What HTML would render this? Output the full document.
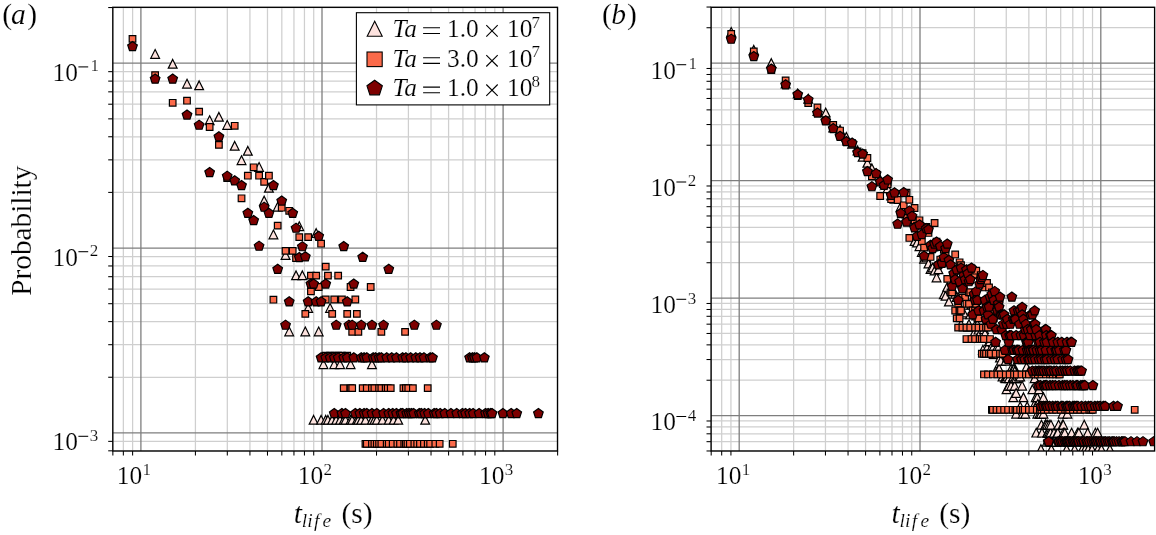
<!DOCTYPE html><html><head><meta charset="utf-8"><title>plot</title>
<style>html,body{margin:0;padding:0;background:#fff;width:1156px;height:535px;overflow:hidden}svg{display:block;will-change:transform}</style></head><body>
<svg width="1156" height="535" viewBox="0 0 1156 535">
<defs>
<path id="t" d="M0,-4.35L4.4,4.4L-4.4,4.4Z"/><path id="s" d="M-3.3,-3.3H3.3V3.3H-3.3Z"/><path id="p" d="M0.000,-4.568L4.803,-1.078L2.968,4.568L-2.968,4.568L-4.803,-1.078Z"/>
<clipPath id="ca"><rect x="112.8" y="7.3" width="444.70" height="443.70"/></clipPath>
<clipPath id="cb"><rect x="711.1" y="7.3" width="443.50" height="443.70"/></clipPath>
</defs>
<rect width="1156" height="535" fill="#fff"/>
<line x1="112.85" y1="7.3" x2="112.85" y2="451.0" stroke="#cfcfcf" stroke-width="1.25"/>
<line x1="123.35" y1="7.3" x2="123.35" y2="451.0" stroke="#cfcfcf" stroke-width="1.25"/>
<line x1="132.61" y1="7.3" x2="132.61" y2="451.0" stroke="#cfcfcf" stroke-width="1.25"/>
<line x1="195.42" y1="7.3" x2="195.42" y2="451.0" stroke="#cfcfcf" stroke-width="1.25"/>
<line x1="227.31" y1="7.3" x2="227.31" y2="451.0" stroke="#cfcfcf" stroke-width="1.25"/>
<line x1="249.93" y1="7.3" x2="249.93" y2="451.0" stroke="#cfcfcf" stroke-width="1.25"/>
<line x1="267.48" y1="7.3" x2="267.48" y2="451.0" stroke="#cfcfcf" stroke-width="1.25"/>
<line x1="281.82" y1="7.3" x2="281.82" y2="451.0" stroke="#cfcfcf" stroke-width="1.25"/>
<line x1="293.95" y1="7.3" x2="293.95" y2="451.0" stroke="#cfcfcf" stroke-width="1.25"/>
<line x1="304.45" y1="7.3" x2="304.45" y2="451.0" stroke="#cfcfcf" stroke-width="1.25"/>
<line x1="313.71" y1="7.3" x2="313.71" y2="451.0" stroke="#cfcfcf" stroke-width="1.25"/>
<line x1="376.52" y1="7.3" x2="376.52" y2="451.0" stroke="#cfcfcf" stroke-width="1.25"/>
<line x1="408.41" y1="7.3" x2="408.41" y2="451.0" stroke="#cfcfcf" stroke-width="1.25"/>
<line x1="431.03" y1="7.3" x2="431.03" y2="451.0" stroke="#cfcfcf" stroke-width="1.25"/>
<line x1="448.58" y1="7.3" x2="448.58" y2="451.0" stroke="#cfcfcf" stroke-width="1.25"/>
<line x1="462.92" y1="7.3" x2="462.92" y2="451.0" stroke="#cfcfcf" stroke-width="1.25"/>
<line x1="475.05" y1="7.3" x2="475.05" y2="451.0" stroke="#cfcfcf" stroke-width="1.25"/>
<line x1="485.55" y1="7.3" x2="485.55" y2="451.0" stroke="#cfcfcf" stroke-width="1.25"/>
<line x1="494.81" y1="7.3" x2="494.81" y2="451.0" stroke="#cfcfcf" stroke-width="1.25"/>
<line x1="557.62" y1="7.3" x2="557.62" y2="451.0" stroke="#cfcfcf" stroke-width="1.25"/>
<line x1="112.8" y1="450.81" x2="557.5" y2="450.81" stroke="#cfcfcf" stroke-width="1.25"/>
<line x1="112.8" y1="441.36" x2="557.5" y2="441.36" stroke="#cfcfcf" stroke-width="1.25"/>
<line x1="112.8" y1="377.25" x2="557.5" y2="377.25" stroke="#cfcfcf" stroke-width="1.25"/>
<line x1="112.8" y1="344.70" x2="557.5" y2="344.70" stroke="#cfcfcf" stroke-width="1.25"/>
<line x1="112.8" y1="321.61" x2="557.5" y2="321.61" stroke="#cfcfcf" stroke-width="1.25"/>
<line x1="112.8" y1="303.70" x2="557.5" y2="303.70" stroke="#cfcfcf" stroke-width="1.25"/>
<line x1="112.8" y1="289.06" x2="557.5" y2="289.06" stroke="#cfcfcf" stroke-width="1.25"/>
<line x1="112.8" y1="276.68" x2="557.5" y2="276.68" stroke="#cfcfcf" stroke-width="1.25"/>
<line x1="112.8" y1="265.96" x2="557.5" y2="265.96" stroke="#cfcfcf" stroke-width="1.25"/>
<line x1="112.8" y1="256.51" x2="557.5" y2="256.51" stroke="#cfcfcf" stroke-width="1.25"/>
<line x1="112.8" y1="192.40" x2="557.5" y2="192.40" stroke="#cfcfcf" stroke-width="1.25"/>
<line x1="112.8" y1="159.85" x2="557.5" y2="159.85" stroke="#cfcfcf" stroke-width="1.25"/>
<line x1="112.8" y1="136.76" x2="557.5" y2="136.76" stroke="#cfcfcf" stroke-width="1.25"/>
<line x1="112.8" y1="118.85" x2="557.5" y2="118.85" stroke="#cfcfcf" stroke-width="1.25"/>
<line x1="112.8" y1="104.21" x2="557.5" y2="104.21" stroke="#cfcfcf" stroke-width="1.25"/>
<line x1="112.8" y1="91.83" x2="557.5" y2="91.83" stroke="#cfcfcf" stroke-width="1.25"/>
<line x1="112.8" y1="81.11" x2="557.5" y2="81.11" stroke="#cfcfcf" stroke-width="1.25"/>
<line x1="112.8" y1="71.66" x2="557.5" y2="71.66" stroke="#cfcfcf" stroke-width="1.25"/>
<line x1="112.8" y1="7.55" x2="557.5" y2="7.55" stroke="#cfcfcf" stroke-width="1.25"/>
<line x1="140.90" y1="7.3" x2="140.90" y2="451.0" stroke="#7e7e7e" stroke-width="1.3"/>
<line x1="322.00" y1="7.3" x2="322.00" y2="451.0" stroke="#7e7e7e" stroke-width="1.3"/>
<line x1="503.10" y1="7.3" x2="503.10" y2="451.0" stroke="#7e7e7e" stroke-width="1.3"/>
<line x1="112.8" y1="432.90" x2="557.5" y2="432.90" stroke="#7e7e7e" stroke-width="1.3"/>
<line x1="112.8" y1="248.05" x2="557.5" y2="248.05" stroke="#7e7e7e" stroke-width="1.3"/>
<line x1="112.8" y1="63.20" x2="557.5" y2="63.20" stroke="#7e7e7e" stroke-width="1.3"/>
<g clip-path="url(#ca)" stroke="#000" stroke-width="1.2" stroke-linejoin="miter">
<g fill="#fde2de"><use href="#t" x="155.13" y="53.90"/><use href="#t" x="172.68" y="63.80"/><use href="#t" x="187.02" y="83.70"/><use href="#t" x="199.14" y="85.30"/><use href="#t" x="209.64" y="120.20"/><use href="#t" x="218.91" y="116.80"/><use href="#t" x="227.19" y="124.90"/><use href="#t" x="234.69" y="145.80"/><use href="#t" x="241.53" y="160.20"/><use href="#t" x="247.83" y="150.80"/><use href="#t" x="259.08" y="166.90"/><use href="#t" x="264.16" y="200.50"/><use href="#t" x="268.93" y="187.80"/><use href="#t" x="273.42" y="234.40"/><use href="#t" x="277.68" y="206.70"/><use href="#t" x="285.55" y="255.00"/><use href="#t" x="289.21" y="331.40"/><use href="#t" x="296.05" y="275.30"/><use href="#t" x="299.26" y="226.20"/><use href="#t" x="302.35" y="275.30"/><use href="#t" x="305.31" y="331.40"/><use href="#t" x="308.17" y="307.90"/><use href="#t" x="313.60" y="419.80"/><use href="#t" x="316.18" y="233.00"/><use href="#t" x="318.68" y="331.40"/><use href="#t" x="321.10" y="419.80"/><use href="#t" x="323.44" y="364.15"/><use href="#t" x="325.72" y="419.80"/><use href="#t" x="327.94" y="419.80"/><use href="#t" x="330.09" y="307.90"/><use href="#t" x="332.19" y="419.80"/><use href="#t" x="334.24" y="364.15"/><use href="#t" x="336.23" y="419.80"/><use href="#t" x="340.06" y="364.15"/><use href="#t" x="340.06" y="419.80"/><use href="#t" x="343.72" y="419.80"/><use href="#t" x="345.49" y="419.80"/><use href="#t" x="350.57" y="364.15"/><use href="#t" x="350.57" y="419.80"/><use href="#t" x="352.19" y="419.80"/><use href="#t" x="356.86" y="419.80"/><use href="#t" x="358.36" y="419.80"/><use href="#t" x="361.27" y="419.80"/><use href="#t" x="365.45" y="419.80"/><use href="#t" x="371.95" y="364.15"/><use href="#t" x="371.95" y="419.80"/><use href="#t" x="374.41" y="419.80"/><use href="#t" x="376.80" y="419.80"/><use href="#t" x="382.46" y="419.80"/><use href="#t" x="388.75" y="419.80"/><use href="#t" x="393.64" y="419.80"/><use href="#t" x="398.24" y="419.80"/><use href="#t" x="425.21" y="419.80"/></g>
<g fill="#fb6a4a"><use href="#s" x="132.50" y="38.90"/><use href="#s" x="155.13" y="75.10"/><use href="#s" x="172.68" y="102.80"/><use href="#s" x="187.02" y="100.70"/><use href="#s" x="199.14" y="111.60"/><use href="#s" x="209.64" y="127.00"/><use href="#s" x="218.91" y="144.90"/><use href="#s" x="227.19" y="178.00"/><use href="#s" x="234.69" y="125.80"/><use href="#s" x="241.53" y="198.30"/><use href="#s" x="247.83" y="175.70"/><use href="#s" x="253.66" y="167.30"/><use href="#s" x="259.08" y="175.70"/><use href="#s" x="264.16" y="181.90"/><use href="#s" x="268.93" y="175.70"/><use href="#s" x="273.42" y="299.70"/><use href="#s" x="277.68" y="225.60"/><use href="#s" x="281.71" y="207.70"/><use href="#s" x="285.55" y="250.90"/><use href="#s" x="289.21" y="210.80"/><use href="#s" x="292.70" y="250.90"/><use href="#s" x="296.05" y="258.00"/><use href="#s" x="299.26" y="237.10"/><use href="#s" x="305.31" y="313.90"/><use href="#s" x="308.17" y="237.10"/><use href="#s" x="310.93" y="291.40"/><use href="#s" x="310.93" y="275.60"/><use href="#s" x="316.18" y="275.60"/><use href="#s" x="318.68" y="287.00"/><use href="#s" x="321.10" y="243.70"/><use href="#s" x="325.72" y="299.50"/><use href="#s" x="325.72" y="266.60"/><use href="#s" x="325.72" y="355.60"/><use href="#s" x="327.94" y="275.60"/><use href="#s" x="330.09" y="355.60"/><use href="#s" x="332.19" y="313.90"/><use href="#s" x="334.24" y="299.50"/><use href="#s" x="334.24" y="355.60"/><use href="#s" x="338.17" y="275.60"/><use href="#s" x="338.17" y="355.60"/><use href="#s" x="341.91" y="299.50"/><use href="#s" x="341.91" y="355.60"/><use href="#s" x="343.72" y="388.15"/><use href="#s" x="347.22" y="313.90"/><use href="#s" x="347.22" y="355.60"/><use href="#s" x="350.57" y="287.00"/><use href="#s" x="350.57" y="388.15"/><use href="#s" x="352.19" y="331.90"/><use href="#s" x="352.19" y="388.15"/><use href="#s" x="355.33" y="299.50"/><use href="#s" x="356.86" y="313.90"/><use href="#s" x="358.36" y="331.90"/><use href="#s" x="362.69" y="388.15"/><use href="#s" x="365.45" y="443.80"/><use href="#s" x="366.79" y="388.15"/><use href="#s" x="366.79" y="443.80"/><use href="#s" x="370.70" y="287.00"/><use href="#s" x="371.95" y="388.15"/><use href="#s" x="371.95" y="443.80"/><use href="#s" x="374.41" y="388.15"/><use href="#s" x="374.41" y="443.80"/><use href="#s" x="376.80" y="443.80"/><use href="#s" x="379.11" y="388.15"/><use href="#s" x="379.11" y="443.80"/><use href="#s" x="381.36" y="331.90"/><use href="#s" x="381.36" y="388.15"/><use href="#s" x="381.36" y="443.80"/><use href="#s" x="385.67" y="388.15"/><use href="#s" x="386.71" y="443.80"/><use href="#s" x="387.74" y="388.15"/><use href="#s" x="388.75" y="443.80"/><use href="#s" x="390.74" y="388.15"/><use href="#s" x="392.69" y="443.80"/><use href="#s" x="397.34" y="443.80"/><use href="#s" x="400.01" y="443.80"/><use href="#s" x="403.43" y="388.15"/><use href="#s" x="404.26" y="443.80"/><use href="#s" x="405.08" y="331.90"/><use href="#s" x="405.90" y="388.15"/><use href="#s" x="405.90" y="443.80"/><use href="#s" x="407.50" y="443.80"/><use href="#s" x="408.29" y="388.15"/><use href="#s" x="409.85" y="443.80"/><use href="#s" x="412.88" y="388.15"/><use href="#s" x="414.35" y="443.80"/><use href="#s" x="417.21" y="443.80"/><use href="#s" x="419.97" y="443.80"/><use href="#s" x="423.93" y="443.80"/><use href="#s" x="427.71" y="388.15"/><use href="#s" x="427.71" y="443.80"/><use href="#s" x="430.13" y="443.80"/><use href="#s" x="435.32" y="443.80"/><use href="#s" x="439.66" y="443.80"/><use href="#s" x="452.76" y="443.80"/></g>
<g fill="#7d0000"><use href="#p" x="132.50" y="46.10"/><use href="#p" x="155.13" y="78.60"/><use href="#p" x="172.68" y="78.60"/><use href="#p" x="187.02" y="114.50"/><use href="#p" x="199.14" y="124.70"/><use href="#p" x="209.64" y="172.00"/><use href="#p" x="218.91" y="136.40"/><use href="#p" x="227.19" y="175.70"/><use href="#p" x="234.69" y="180.40"/><use href="#p" x="241.53" y="185.00"/><use href="#p" x="247.83" y="212.90"/><use href="#p" x="253.66" y="220.10"/><use href="#p" x="259.08" y="245.70"/><use href="#p" x="264.16" y="206.70"/><use href="#p" x="268.93" y="212.90"/><use href="#p" x="273.42" y="185.10"/><use href="#p" x="277.68" y="268.90"/><use href="#p" x="281.71" y="200.50"/><use href="#p" x="285.55" y="324.70"/><use href="#p" x="289.21" y="301.40"/><use href="#p" x="292.70" y="212.90"/><use href="#p" x="296.05" y="227.70"/><use href="#p" x="299.26" y="257.00"/><use href="#p" x="302.35" y="246.20"/><use href="#p" x="305.31" y="256.40"/><use href="#p" x="308.17" y="301.40"/><use href="#p" x="310.93" y="283.50"/><use href="#p" x="313.60" y="283.50"/><use href="#p" x="316.18" y="301.40"/><use href="#p" x="318.68" y="235.90"/><use href="#p" x="321.10" y="301.40"/><use href="#p" x="321.10" y="357.35"/><use href="#p" x="325.72" y="283.50"/><use href="#p" x="325.72" y="357.35"/><use href="#p" x="330.09" y="357.35"/><use href="#p" x="334.24" y="357.35"/><use href="#p" x="334.24" y="413.00"/><use href="#p" x="336.23" y="324.70"/><use href="#p" x="338.17" y="357.35"/><use href="#p" x="341.91" y="413.00"/><use href="#p" x="343.72" y="246.00"/><use href="#p" x="343.72" y="357.35"/><use href="#p" x="345.49" y="413.00"/><use href="#p" x="347.22" y="301.40"/><use href="#p" x="347.22" y="357.35"/><use href="#p" x="348.91" y="324.70"/><use href="#p" x="352.19" y="324.70"/><use href="#p" x="353.78" y="283.50"/><use href="#p" x="353.78" y="357.35"/><use href="#p" x="355.33" y="413.00"/><use href="#p" x="359.83" y="413.00"/><use href="#p" x="361.27" y="324.70"/><use href="#p" x="361.27" y="357.35"/><use href="#p" x="362.69" y="256.80"/><use href="#p" x="364.08" y="357.35"/><use href="#p" x="364.08" y="413.00"/><use href="#p" x="366.79" y="357.35"/><use href="#p" x="366.79" y="413.00"/><use href="#p" x="371.95" y="324.70"/><use href="#p" x="371.95" y="413.00"/><use href="#p" x="373.19" y="357.35"/><use href="#p" x="375.61" y="357.35"/><use href="#p" x="376.80" y="413.00"/><use href="#p" x="379.11" y="357.35"/><use href="#p" x="381.36" y="357.35"/><use href="#p" x="383.54" y="324.70"/><use href="#p" x="383.54" y="413.00"/><use href="#p" x="386.71" y="357.35"/><use href="#p" x="388.75" y="268.90"/><use href="#p" x="388.75" y="413.00"/><use href="#p" x="391.72" y="357.35"/><use href="#p" x="392.69" y="413.00"/><use href="#p" x="396.43" y="357.35"/><use href="#p" x="396.43" y="413.00"/><use href="#p" x="400.88" y="413.00"/><use href="#p" x="402.59" y="357.35"/><use href="#p" x="402.59" y="413.00"/><use href="#p" x="405.90" y="357.35"/><use href="#p" x="406.70" y="413.00"/><use href="#p" x="409.08" y="413.00"/><use href="#p" x="410.62" y="357.35"/><use href="#p" x="411.38" y="413.00"/><use href="#p" x="413.61" y="413.00"/><use href="#p" x="414.35" y="324.70"/><use href="#p" x="415.79" y="357.35"/><use href="#p" x="419.29" y="413.00"/><use href="#p" x="419.97" y="357.35"/><use href="#p" x="421.31" y="413.00"/><use href="#p" x="423.93" y="357.35"/><use href="#p" x="424.58" y="413.00"/><use href="#p" x="428.32" y="413.00"/><use href="#p" x="430.13" y="357.35"/><use href="#p" x="432.48" y="357.35"/><use href="#p" x="434.19" y="413.00"/><use href="#p" x="436.42" y="324.70"/><use href="#p" x="436.42" y="413.00"/><use href="#p" x="440.18" y="413.00"/><use href="#p" x="444.77" y="413.00"/><use href="#p" x="450.95" y="413.00"/><use href="#p" x="456.68" y="413.00"/><use href="#p" x="462.42" y="413.00"/><use href="#p" x="465.52" y="413.00"/><use href="#p" x="469.59" y="357.35"/><use href="#p" x="469.59" y="413.00"/><use href="#p" x="472.42" y="357.35"/><use href="#p" x="473.12" y="413.00"/><use href="#p" x="474.48" y="357.35"/><use href="#p" x="476.82" y="357.35"/><use href="#p" x="479.09" y="413.00"/><use href="#p" x="484.35" y="357.35"/><use href="#p" x="485.53" y="413.00"/><use href="#p" x="488.14" y="413.00"/><use href="#p" x="490.67" y="413.00"/><use href="#p" x="492.03" y="413.00"/><use href="#p" x="502.91" y="413.00"/><use href="#p" x="511.19" y="413.00"/><use href="#p" x="516.73" y="413.00"/><use href="#p" x="538.41" y="413.00"/></g>
</g>
<line x1="112.85" y1="451.0" x2="112.85" y2="455.6" stroke="#000" stroke-width="1.05"/>
<line x1="123.35" y1="451.0" x2="123.35" y2="455.6" stroke="#000" stroke-width="1.05"/>
<line x1="132.61" y1="451.0" x2="132.61" y2="455.6" stroke="#000" stroke-width="1.05"/>
<line x1="195.42" y1="451.0" x2="195.42" y2="455.6" stroke="#000" stroke-width="1.05"/>
<line x1="227.31" y1="451.0" x2="227.31" y2="455.6" stroke="#000" stroke-width="1.05"/>
<line x1="249.93" y1="451.0" x2="249.93" y2="455.6" stroke="#000" stroke-width="1.05"/>
<line x1="267.48" y1="451.0" x2="267.48" y2="455.6" stroke="#000" stroke-width="1.05"/>
<line x1="281.82" y1="451.0" x2="281.82" y2="455.6" stroke="#000" stroke-width="1.05"/>
<line x1="293.95" y1="451.0" x2="293.95" y2="455.6" stroke="#000" stroke-width="1.05"/>
<line x1="304.45" y1="451.0" x2="304.45" y2="455.6" stroke="#000" stroke-width="1.05"/>
<line x1="313.71" y1="451.0" x2="313.71" y2="455.6" stroke="#000" stroke-width="1.05"/>
<line x1="376.52" y1="451.0" x2="376.52" y2="455.6" stroke="#000" stroke-width="1.05"/>
<line x1="408.41" y1="451.0" x2="408.41" y2="455.6" stroke="#000" stroke-width="1.05"/>
<line x1="431.03" y1="451.0" x2="431.03" y2="455.6" stroke="#000" stroke-width="1.05"/>
<line x1="448.58" y1="451.0" x2="448.58" y2="455.6" stroke="#000" stroke-width="1.05"/>
<line x1="462.92" y1="451.0" x2="462.92" y2="455.6" stroke="#000" stroke-width="1.05"/>
<line x1="475.05" y1="451.0" x2="475.05" y2="455.6" stroke="#000" stroke-width="1.05"/>
<line x1="485.55" y1="451.0" x2="485.55" y2="455.6" stroke="#000" stroke-width="1.05"/>
<line x1="494.81" y1="451.0" x2="494.81" y2="455.6" stroke="#000" stroke-width="1.05"/>
<line x1="557.62" y1="451.0" x2="557.62" y2="455.6" stroke="#000" stroke-width="1.05"/>
<line x1="112.8" y1="450.81" x2="108.2" y2="450.81" stroke="#000" stroke-width="1.05"/>
<line x1="112.8" y1="441.36" x2="108.2" y2="441.36" stroke="#000" stroke-width="1.05"/>
<line x1="112.8" y1="377.25" x2="108.2" y2="377.25" stroke="#000" stroke-width="1.05"/>
<line x1="112.8" y1="344.70" x2="108.2" y2="344.70" stroke="#000" stroke-width="1.05"/>
<line x1="112.8" y1="321.61" x2="108.2" y2="321.61" stroke="#000" stroke-width="1.05"/>
<line x1="112.8" y1="303.70" x2="108.2" y2="303.70" stroke="#000" stroke-width="1.05"/>
<line x1="112.8" y1="289.06" x2="108.2" y2="289.06" stroke="#000" stroke-width="1.05"/>
<line x1="112.8" y1="276.68" x2="108.2" y2="276.68" stroke="#000" stroke-width="1.05"/>
<line x1="112.8" y1="265.96" x2="108.2" y2="265.96" stroke="#000" stroke-width="1.05"/>
<line x1="112.8" y1="256.51" x2="108.2" y2="256.51" stroke="#000" stroke-width="1.05"/>
<line x1="112.8" y1="192.40" x2="108.2" y2="192.40" stroke="#000" stroke-width="1.05"/>
<line x1="112.8" y1="159.85" x2="108.2" y2="159.85" stroke="#000" stroke-width="1.05"/>
<line x1="112.8" y1="136.76" x2="108.2" y2="136.76" stroke="#000" stroke-width="1.05"/>
<line x1="112.8" y1="118.85" x2="108.2" y2="118.85" stroke="#000" stroke-width="1.05"/>
<line x1="112.8" y1="104.21" x2="108.2" y2="104.21" stroke="#000" stroke-width="1.05"/>
<line x1="112.8" y1="91.83" x2="108.2" y2="91.83" stroke="#000" stroke-width="1.05"/>
<line x1="112.8" y1="81.11" x2="108.2" y2="81.11" stroke="#000" stroke-width="1.05"/>
<line x1="112.8" y1="71.66" x2="108.2" y2="71.66" stroke="#000" stroke-width="1.05"/>
<line x1="112.8" y1="7.55" x2="108.2" y2="7.55" stroke="#000" stroke-width="1.05"/>
<rect x="112.8" y="7.3" width="444.70" height="443.70" fill="none" stroke="#000" stroke-width="1.35"/>
<line x1="711.19" y1="7.3" x2="711.19" y2="451.0" stroke="#cfcfcf" stroke-width="1.25"/>
<line x1="721.68" y1="7.3" x2="721.68" y2="451.0" stroke="#cfcfcf" stroke-width="1.25"/>
<line x1="730.93" y1="7.3" x2="730.93" y2="451.0" stroke="#cfcfcf" stroke-width="1.25"/>
<line x1="793.63" y1="7.3" x2="793.63" y2="451.0" stroke="#cfcfcf" stroke-width="1.25"/>
<line x1="825.46" y1="7.3" x2="825.46" y2="451.0" stroke="#cfcfcf" stroke-width="1.25"/>
<line x1="848.05" y1="7.3" x2="848.05" y2="451.0" stroke="#cfcfcf" stroke-width="1.25"/>
<line x1="865.57" y1="7.3" x2="865.57" y2="451.0" stroke="#cfcfcf" stroke-width="1.25"/>
<line x1="879.89" y1="7.3" x2="879.89" y2="451.0" stroke="#cfcfcf" stroke-width="1.25"/>
<line x1="891.99" y1="7.3" x2="891.99" y2="451.0" stroke="#cfcfcf" stroke-width="1.25"/>
<line x1="902.48" y1="7.3" x2="902.48" y2="451.0" stroke="#cfcfcf" stroke-width="1.25"/>
<line x1="911.73" y1="7.3" x2="911.73" y2="451.0" stroke="#cfcfcf" stroke-width="1.25"/>
<line x1="974.43" y1="7.3" x2="974.43" y2="451.0" stroke="#cfcfcf" stroke-width="1.25"/>
<line x1="1006.26" y1="7.3" x2="1006.26" y2="451.0" stroke="#cfcfcf" stroke-width="1.25"/>
<line x1="1028.85" y1="7.3" x2="1028.85" y2="451.0" stroke="#cfcfcf" stroke-width="1.25"/>
<line x1="1046.37" y1="7.3" x2="1046.37" y2="451.0" stroke="#cfcfcf" stroke-width="1.25"/>
<line x1="1060.69" y1="7.3" x2="1060.69" y2="451.0" stroke="#cfcfcf" stroke-width="1.25"/>
<line x1="1072.79" y1="7.3" x2="1072.79" y2="451.0" stroke="#cfcfcf" stroke-width="1.25"/>
<line x1="1083.28" y1="7.3" x2="1083.28" y2="451.0" stroke="#cfcfcf" stroke-width="1.25"/>
<line x1="1092.53" y1="7.3" x2="1092.53" y2="451.0" stroke="#cfcfcf" stroke-width="1.25"/>
<line x1="711.1" y1="450.97" x2="1154.6" y2="450.97" stroke="#cfcfcf" stroke-width="1.25"/>
<line x1="711.1" y1="441.67" x2="1154.6" y2="441.67" stroke="#cfcfcf" stroke-width="1.25"/>
<line x1="711.1" y1="433.80" x2="1154.6" y2="433.80" stroke="#cfcfcf" stroke-width="1.25"/>
<line x1="711.1" y1="426.99" x2="1154.6" y2="426.99" stroke="#cfcfcf" stroke-width="1.25"/>
<line x1="711.1" y1="420.98" x2="1154.6" y2="420.98" stroke="#cfcfcf" stroke-width="1.25"/>
<line x1="711.1" y1="380.23" x2="1154.6" y2="380.23" stroke="#cfcfcf" stroke-width="1.25"/>
<line x1="711.1" y1="359.54" x2="1154.6" y2="359.54" stroke="#cfcfcf" stroke-width="1.25"/>
<line x1="711.1" y1="344.86" x2="1154.6" y2="344.86" stroke="#cfcfcf" stroke-width="1.25"/>
<line x1="711.1" y1="333.47" x2="1154.6" y2="333.47" stroke="#cfcfcf" stroke-width="1.25"/>
<line x1="711.1" y1="324.17" x2="1154.6" y2="324.17" stroke="#cfcfcf" stroke-width="1.25"/>
<line x1="711.1" y1="316.30" x2="1154.6" y2="316.30" stroke="#cfcfcf" stroke-width="1.25"/>
<line x1="711.1" y1="309.49" x2="1154.6" y2="309.49" stroke="#cfcfcf" stroke-width="1.25"/>
<line x1="711.1" y1="303.48" x2="1154.6" y2="303.48" stroke="#cfcfcf" stroke-width="1.25"/>
<line x1="711.1" y1="262.73" x2="1154.6" y2="262.73" stroke="#cfcfcf" stroke-width="1.25"/>
<line x1="711.1" y1="242.04" x2="1154.6" y2="242.04" stroke="#cfcfcf" stroke-width="1.25"/>
<line x1="711.1" y1="227.36" x2="1154.6" y2="227.36" stroke="#cfcfcf" stroke-width="1.25"/>
<line x1="711.1" y1="215.97" x2="1154.6" y2="215.97" stroke="#cfcfcf" stroke-width="1.25"/>
<line x1="711.1" y1="206.67" x2="1154.6" y2="206.67" stroke="#cfcfcf" stroke-width="1.25"/>
<line x1="711.1" y1="198.80" x2="1154.6" y2="198.80" stroke="#cfcfcf" stroke-width="1.25"/>
<line x1="711.1" y1="191.99" x2="1154.6" y2="191.99" stroke="#cfcfcf" stroke-width="1.25"/>
<line x1="711.1" y1="185.98" x2="1154.6" y2="185.98" stroke="#cfcfcf" stroke-width="1.25"/>
<line x1="711.1" y1="145.23" x2="1154.6" y2="145.23" stroke="#cfcfcf" stroke-width="1.25"/>
<line x1="711.1" y1="124.54" x2="1154.6" y2="124.54" stroke="#cfcfcf" stroke-width="1.25"/>
<line x1="711.1" y1="109.86" x2="1154.6" y2="109.86" stroke="#cfcfcf" stroke-width="1.25"/>
<line x1="711.1" y1="98.47" x2="1154.6" y2="98.47" stroke="#cfcfcf" stroke-width="1.25"/>
<line x1="711.1" y1="89.17" x2="1154.6" y2="89.17" stroke="#cfcfcf" stroke-width="1.25"/>
<line x1="711.1" y1="81.30" x2="1154.6" y2="81.30" stroke="#cfcfcf" stroke-width="1.25"/>
<line x1="711.1" y1="74.49" x2="1154.6" y2="74.49" stroke="#cfcfcf" stroke-width="1.25"/>
<line x1="711.1" y1="68.48" x2="1154.6" y2="68.48" stroke="#cfcfcf" stroke-width="1.25"/>
<line x1="711.1" y1="27.73" x2="1154.6" y2="27.73" stroke="#cfcfcf" stroke-width="1.25"/>
<line x1="711.1" y1="7.04" x2="1154.6" y2="7.04" stroke="#cfcfcf" stroke-width="1.25"/>
<line x1="739.20" y1="7.3" x2="739.20" y2="451.0" stroke="#7e7e7e" stroke-width="1.3"/>
<line x1="920.00" y1="7.3" x2="920.00" y2="451.0" stroke="#7e7e7e" stroke-width="1.3"/>
<line x1="1100.80" y1="7.3" x2="1100.80" y2="451.0" stroke="#7e7e7e" stroke-width="1.3"/>
<line x1="711.1" y1="415.60" x2="1154.6" y2="415.60" stroke="#7e7e7e" stroke-width="1.3"/>
<line x1="711.1" y1="298.10" x2="1154.6" y2="298.10" stroke="#7e7e7e" stroke-width="1.3"/>
<line x1="711.1" y1="180.60" x2="1154.6" y2="180.60" stroke="#7e7e7e" stroke-width="1.3"/>
<line x1="711.1" y1="63.10" x2="1154.6" y2="63.10" stroke="#7e7e7e" stroke-width="1.3"/>
<g clip-path="url(#cb)" stroke="#000" stroke-width="1.2" stroke-linejoin="miter">
<g fill="#fde2de"><use href="#t" x="731.20" y="31.90"/><use href="#t" x="753.79" y="49.80"/><use href="#t" x="771.31" y="63.00"/><use href="#t" x="785.63" y="83.50"/><use href="#t" x="797.73" y="93.50"/><use href="#t" x="808.22" y="98.70"/><use href="#t" x="817.46" y="111.00"/><use href="#t" x="825.74" y="112.50"/><use href="#t" x="833.22" y="127.50"/><use href="#t" x="840.05" y="129.66"/><use href="#t" x="846.34" y="136.82"/><use href="#t" x="852.16" y="143.70"/><use href="#t" x="857.57" y="150.47"/><use href="#t" x="862.64" y="156.80"/><use href="#t" x="867.40" y="162.75"/><use href="#t" x="871.89" y="168.27"/><use href="#t" x="876.14" y="173.36"/><use href="#t" x="880.16" y="179.71"/><use href="#t" x="883.99" y="183.04"/><use href="#t" x="887.65" y="188.30"/><use href="#t" x="891.14" y="195.39"/><use href="#t" x="894.48" y="198.83"/><use href="#t" x="900.76" y="206.39"/><use href="#t" x="903.73" y="210.07"/><use href="#t" x="906.58" y="213.49"/><use href="#t" x="909.34" y="219.58"/><use href="#t" x="914.57" y="241.06"/><use href="#t" x="917.07" y="242.48"/><use href="#t" x="919.48" y="246.20"/><use href="#t" x="921.83" y="251.92"/><use href="#t" x="924.10" y="258.83"/><use href="#t" x="926.32" y="257.44"/><use href="#t" x="928.47" y="263.53"/><use href="#t" x="930.56" y="269.05"/><use href="#t" x="932.60" y="267.57"/><use href="#t" x="934.59" y="270.57"/><use href="#t" x="936.53" y="277.44"/><use href="#t" x="938.42" y="269.27"/><use href="#t" x="943.84" y="294.21"/><use href="#t" x="945.56" y="295.74"/><use href="#t" x="947.25" y="286.83"/><use href="#t" x="948.90" y="301.51"/><use href="#t" x="952.11" y="291.12"/><use href="#t" x="955.19" y="293.64"/><use href="#t" x="956.69" y="297.12"/><use href="#t" x="958.15" y="297.12"/><use href="#t" x="961.01" y="324.20"/><use href="#t" x="962.40" y="314.33"/><use href="#t" x="963.76" y="312.51"/><use href="#t" x="966.43" y="304.64"/><use href="#t" x="967.72" y="326.64"/><use href="#t" x="969.00" y="324.20"/><use href="#t" x="970.26" y="314.33"/><use href="#t" x="971.49" y="304.42"/><use href="#t" x="972.71" y="298.75"/><use href="#t" x="973.91" y="333.30"/><use href="#t" x="975.09" y="325.33"/><use href="#t" x="976.25" y="315.42"/><use href="#t" x="977.40" y="324.20"/><use href="#t" x="978.53" y="329.58"/><use href="#t" x="979.64" y="337.64"/><use href="#t" x="980.74" y="331.50"/><use href="#t" x="981.83" y="335.59"/><use href="#t" x="982.89" y="349.70"/><use href="#t" x="983.95" y="329.11"/><use href="#t" x="984.99" y="333.30"/><use href="#t" x="987.03" y="347.88"/><use href="#t" x="988.03" y="318.11"/><use href="#t" x="989.02" y="341.17"/><use href="#t" x="989.99" y="341.17"/><use href="#t" x="990.95" y="347.88"/><use href="#t" x="991.91" y="350.27"/><use href="#t" x="992.85" y="347.88"/><use href="#t" x="993.78" y="353.89"/><use href="#t" x="994.69" y="353.89"/><use href="#t" x="995.60" y="370.96"/><use href="#t" x="996.50" y="347.88"/><use href="#t" x="997.39" y="370.96"/><use href="#t" x="998.26" y="347.88"/><use href="#t" x="999.13" y="368.57"/><use href="#t" x="999.99" y="357.57"/><use href="#t" x="1000.84" y="360.70"/><use href="#t" x="1002.51" y="376.54"/><use href="#t" x="1004.95" y="377.87"/><use href="#t" x="1005.75" y="360.70"/><use href="#t" x="1005.75" y="378.26"/><use href="#t" x="1006.54" y="389.26"/><use href="#t" x="1007.32" y="357.57"/><use href="#t" x="1007.32" y="376.54"/><use href="#t" x="1008.86" y="378.26"/><use href="#t" x="1008.86" y="385.64"/><use href="#t" x="1008.86" y="385.64"/><use href="#t" x="1011.11" y="368.57"/><use href="#t" x="1011.11" y="385.64"/><use href="#t" x="1013.30" y="376.54"/><use href="#t" x="1013.30" y="397.23"/><use href="#t" x="1014.02" y="366.87"/><use href="#t" x="1014.02" y="368.57"/><use href="#t" x="1014.73" y="370.96"/><use href="#t" x="1014.73" y="378.26"/><use href="#t" x="1014.73" y="385.64"/><use href="#t" x="1016.13" y="378.26"/><use href="#t" x="1016.13" y="392.94"/><use href="#t" x="1016.13" y="413.63"/><use href="#t" x="1018.86" y="376.54"/><use href="#t" x="1020.20" y="376.54"/><use href="#t" x="1020.20" y="406.33"/><use href="#t" x="1022.15" y="385.64"/><use href="#t" x="1022.79" y="413.63"/><use href="#t" x="1023.43" y="397.23"/><use href="#t" x="1025.30" y="413.63"/><use href="#t" x="1026.53" y="366.87"/><use href="#t" x="1027.14" y="406.33"/><use href="#t" x="1028.93" y="370.96"/><use href="#t" x="1032.39" y="389.26"/><use href="#t" x="1034.62" y="378.26"/><use href="#t" x="1034.62" y="403.94"/><use href="#t" x="1035.71" y="397.23"/><use href="#t" x="1035.71" y="406.33"/><use href="#t" x="1036.25" y="432.60"/><use href="#t" x="1037.32" y="397.23"/><use href="#t" x="1037.32" y="413.63"/><use href="#t" x="1037.85" y="403.94"/><use href="#t" x="1038.90" y="389.26"/><use href="#t" x="1038.90" y="406.33"/><use href="#t" x="1039.41" y="413.63"/><use href="#t" x="1040.95" y="406.33"/><use href="#t" x="1040.95" y="413.63"/><use href="#t" x="1040.95" y="413.63"/><use href="#t" x="1040.95" y="449.00"/><use href="#t" x="1041.45" y="424.63"/><use href="#t" x="1041.96" y="432.60"/><use href="#t" x="1043.44" y="397.23"/><use href="#t" x="1043.44" y="413.63"/><use href="#t" x="1045.38" y="424.63"/><use href="#t" x="1045.38" y="424.63"/><use href="#t" x="1045.86" y="424.63"/><use href="#t" x="1046.80" y="441.70"/><use href="#t" x="1047.27" y="424.63"/><use href="#t" x="1047.27" y="432.60"/><use href="#t" x="1047.74" y="432.60"/><use href="#t" x="1047.74" y="432.60"/><use href="#t" x="1049.12" y="424.63"/><use href="#t" x="1049.12" y="432.60"/><use href="#t" x="1050.48" y="432.60"/><use href="#t" x="1050.93" y="424.63"/><use href="#t" x="1051.37" y="441.70"/><use href="#t" x="1051.37" y="449.00"/><use href="#t" x="1051.81" y="441.70"/><use href="#t" x="1053.12" y="441.70"/><use href="#t" x="1053.99" y="432.60"/><use href="#t" x="1055.69" y="441.70"/><use href="#t" x="1056.10" y="441.70"/><use href="#t" x="1057.35" y="432.60"/><use href="#t" x="1057.76" y="432.60"/><use href="#t" x="1058.57" y="424.63"/><use href="#t" x="1062.52" y="413.63"/><use href="#t" x="1062.52" y="424.63"/><use href="#t" x="1063.28" y="424.63"/><use href="#t" x="1063.28" y="432.60"/><use href="#t" x="1064.79" y="432.60"/><use href="#t" x="1065.17" y="441.70"/><use href="#t" x="1066.64" y="449.00"/><use href="#t" x="1067.37" y="413.63"/><use href="#t" x="1068.80" y="441.70"/><use href="#t" x="1071.59" y="432.60"/><use href="#t" x="1074.62" y="449.00"/><use href="#t" x="1077.54" y="432.60"/><use href="#t" x="1077.85" y="441.70"/><use href="#t" x="1078.80" y="432.60"/><use href="#t" x="1082.17" y="449.00"/><use href="#t" x="1084.24" y="424.63"/><use href="#t" x="1084.53" y="441.70"/><use href="#t" x="1085.11" y="449.00"/><use href="#t" x="1087.66" y="432.60"/><use href="#t" x="1088.22" y="449.00"/><use href="#t" x="1092.01" y="449.00"/><use href="#t" x="1095.37" y="432.60"/><use href="#t" x="1097.62" y="432.60"/><use href="#t" x="1097.87" y="449.00"/><use href="#t" x="1101.46" y="449.00"/><use href="#t" x="1109.90" y="449.00"/></g>
<g fill="#fb6a4a"><use href="#s" x="731.20" y="34.00"/><use href="#s" x="753.79" y="51.50"/><use href="#s" x="771.31" y="70.00"/><use href="#s" x="785.63" y="80.40"/><use href="#s" x="797.73" y="96.00"/><use href="#s" x="808.22" y="103.00"/><use href="#s" x="817.46" y="107.40"/><use href="#s" x="825.74" y="121.00"/><use href="#s" x="833.22" y="124.90"/><use href="#s" x="840.05" y="130.55"/><use href="#s" x="846.34" y="141.78"/><use href="#s" x="852.16" y="143.13"/><use href="#s" x="857.57" y="151.46"/><use href="#s" x="862.64" y="153.10"/><use href="#s" x="867.40" y="158.00"/><use href="#s" x="871.89" y="176.35"/><use href="#s" x="876.14" y="173.79"/><use href="#s" x="880.16" y="196.00"/><use href="#s" x="883.99" y="185.55"/><use href="#s" x="887.65" y="182.30"/><use href="#s" x="887.65" y="184.31"/><use href="#s" x="891.14" y="199.19"/><use href="#s" x="894.48" y="193.74"/><use href="#s" x="897.68" y="200.02"/><use href="#s" x="900.76" y="214.43"/><use href="#s" x="903.73" y="205.31"/><use href="#s" x="906.58" y="192.60"/><use href="#s" x="906.58" y="217.87"/><use href="#s" x="909.34" y="199.80"/><use href="#s" x="909.34" y="237.97"/><use href="#s" x="912.00" y="220.30"/><use href="#s" x="914.57" y="208.00"/><use href="#s" x="914.57" y="220.30"/><use href="#s" x="917.07" y="225.54"/><use href="#s" x="919.48" y="220.30"/><use href="#s" x="921.83" y="241.61"/><use href="#s" x="924.10" y="247.63"/><use href="#s" x="926.32" y="226.93"/><use href="#s" x="928.47" y="232.94"/><use href="#s" x="930.56" y="256.93"/><use href="#s" x="932.60" y="247.63"/><use href="#s" x="934.59" y="223.00"/><use href="#s" x="934.59" y="247.63"/><use href="#s" x="936.53" y="241.61"/><use href="#s" x="938.42" y="265.22"/><use href="#s" x="940.27" y="259.55"/><use href="#s" x="942.07" y="262.31"/><use href="#s" x="943.84" y="249.80"/><use href="#s" x="945.56" y="254.44"/><use href="#s" x="947.25" y="278.91"/><use href="#s" x="948.90" y="262.31"/><use href="#s" x="950.52" y="292.30"/><use href="#s" x="952.11" y="292.30"/><use href="#s" x="953.67" y="275.13"/><use href="#s" x="955.19" y="254.44"/><use href="#s" x="955.19" y="310.50"/><use href="#s" x="956.69" y="283.00"/><use href="#s" x="956.69" y="318.37"/><use href="#s" x="958.15" y="303.69"/><use href="#s" x="958.15" y="327.67"/><use href="#s" x="959.59" y="262.31"/><use href="#s" x="959.59" y="310.50"/><use href="#s" x="959.59" y="310.60"/><use href="#s" x="959.59" y="318.37"/><use href="#s" x="961.01" y="265.22"/><use href="#s" x="961.01" y="310.50"/><use href="#s" x="962.40" y="297.68"/><use href="#s" x="962.40" y="327.67"/><use href="#s" x="963.76" y="287.44"/><use href="#s" x="965.11" y="297.68"/><use href="#s" x="966.43" y="303.69"/><use href="#s" x="966.43" y="327.67"/><use href="#s" x="966.43" y="339.06"/><use href="#s" x="967.72" y="271.61"/><use href="#s" x="969.00" y="292.30"/><use href="#s" x="969.00" y="303.90"/><use href="#s" x="970.26" y="292.30"/><use href="#s" x="970.26" y="327.67"/><use href="#s" x="971.49" y="268.32"/><use href="#s" x="971.49" y="339.06"/><use href="#s" x="972.71" y="310.50"/><use href="#s" x="973.91" y="275.13"/><use href="#s" x="975.09" y="310.50"/><use href="#s" x="975.09" y="327.67"/><use href="#s" x="975.09" y="339.06"/><use href="#s" x="976.25" y="270.70"/><use href="#s" x="976.25" y="303.69"/><use href="#s" x="977.40" y="318.37"/><use href="#s" x="978.53" y="318.37"/><use href="#s" x="978.53" y="327.67"/><use href="#s" x="979.64" y="339.06"/><use href="#s" x="980.74" y="275.13"/><use href="#s" x="981.83" y="339.06"/><use href="#s" x="981.83" y="339.06"/><use href="#s" x="981.83" y="353.74"/><use href="#s" x="982.89" y="310.50"/><use href="#s" x="982.89" y="327.67"/><use href="#s" x="983.95" y="310.50"/><use href="#s" x="983.95" y="339.06"/><use href="#s" x="983.95" y="353.74"/><use href="#s" x="983.95" y="374.43"/><use href="#s" x="984.99" y="287.44"/><use href="#s" x="986.01" y="303.69"/><use href="#s" x="986.01" y="327.67"/><use href="#s" x="986.01" y="353.74"/><use href="#s" x="987.03" y="283.00"/><use href="#s" x="988.03" y="327.67"/><use href="#s" x="988.03" y="374.43"/><use href="#s" x="989.02" y="287.44"/><use href="#s" x="989.02" y="353.74"/><use href="#s" x="989.99" y="339.06"/><use href="#s" x="990.95" y="318.37"/><use href="#s" x="990.95" y="353.74"/><use href="#s" x="991.91" y="292.30"/><use href="#s" x="991.91" y="409.80"/><use href="#s" x="992.85" y="310.50"/><use href="#s" x="992.85" y="374.43"/><use href="#s" x="992.85" y="409.80"/><use href="#s" x="993.78" y="318.37"/><use href="#s" x="994.69" y="292.30"/><use href="#s" x="995.60" y="353.74"/><use href="#s" x="996.50" y="409.80"/><use href="#s" x="997.39" y="374.43"/><use href="#s" x="999.99" y="353.74"/><use href="#s" x="999.99" y="409.80"/><use href="#s" x="1000.84" y="374.43"/><use href="#s" x="1002.51" y="353.74"/><use href="#s" x="1004.14" y="409.80"/><use href="#s" x="1005.75" y="374.43"/><use href="#s" x="1008.09" y="409.80"/><use href="#s" x="1009.62" y="374.43"/><use href="#s" x="1012.58" y="409.80"/><use href="#s" x="1014.02" y="374.43"/><use href="#s" x="1015.44" y="409.80"/><use href="#s" x="1016.82" y="374.43"/><use href="#s" x="1016.82" y="409.80"/><use href="#s" x="1020.20" y="409.80"/><use href="#s" x="1021.50" y="374.43"/><use href="#s" x="1022.79" y="409.80"/><use href="#s" x="1024.68" y="409.80"/><use href="#s" x="1025.92" y="374.43"/><use href="#s" x="1028.93" y="374.43"/><use href="#s" x="1028.93" y="409.80"/><use href="#s" x="1032.39" y="409.80"/><use href="#s" x="1033.52" y="374.43"/><use href="#s" x="1035.17" y="374.43"/><use href="#s" x="1036.79" y="409.80"/><use href="#s" x="1037.85" y="374.43"/><use href="#s" x="1039.93" y="409.80"/><use href="#s" x="1041.45" y="374.43"/><use href="#s" x="1041.45" y="409.80"/><use href="#s" x="1043.93" y="409.80"/><use href="#s" x="1045.86" y="374.43"/><use href="#s" x="1047.74" y="409.80"/><use href="#s" x="1050.03" y="374.43"/><use href="#s" x="1052.25" y="409.80"/><use href="#s" x="1052.69" y="374.43"/><use href="#s" x="1056.10" y="374.43"/><use href="#s" x="1056.10" y="409.80"/><use href="#s" x="1058.97" y="374.43"/><use href="#s" x="1059.78" y="374.43"/><use href="#s" x="1060.57" y="409.80"/><use href="#s" x="1065.17" y="409.80"/><use href="#s" x="1067.37" y="409.80"/><use href="#s" x="1069.16" y="409.80"/><use href="#s" x="1072.95" y="409.80"/><use href="#s" x="1076.90" y="409.80"/><use href="#s" x="1080.35" y="409.80"/><use href="#s" x="1084.53" y="409.80"/><use href="#s" x="1089.32" y="409.80"/><use href="#s" x="1091.21" y="409.80"/><use href="#s" x="1092.80" y="409.80"/><use href="#s" x="1134.70" y="409.80"/></g>
<g fill="#7d0000"><use href="#p" x="731.20" y="38.70"/><use href="#p" x="753.79" y="56.00"/><use href="#p" x="771.31" y="68.60"/><use href="#p" x="785.63" y="84.30"/><use href="#p" x="797.73" y="94.00"/><use href="#p" x="808.22" y="99.20"/><use href="#p" x="817.46" y="112.50"/><use href="#p" x="825.74" y="120.30"/><use href="#p" x="833.22" y="128.00"/><use href="#p" x="840.05" y="135.84"/><use href="#p" x="846.34" y="140.98"/><use href="#p" x="852.16" y="142.56"/><use href="#p" x="857.57" y="152.04"/><use href="#p" x="862.64" y="153.48"/><use href="#p" x="867.40" y="171.08"/><use href="#p" x="871.89" y="186.19"/><use href="#p" x="876.14" y="173.18"/><use href="#p" x="880.16" y="181.27"/><use href="#p" x="883.99" y="184.83"/><use href="#p" x="887.65" y="179.42"/><use href="#p" x="891.14" y="194.81"/><use href="#p" x="894.48" y="192.42"/><use href="#p" x="897.68" y="223.68"/><use href="#p" x="900.76" y="212.72"/><use href="#p" x="903.73" y="192.03"/><use href="#p" x="906.58" y="221.57"/><use href="#p" x="909.34" y="210.45"/><use href="#p" x="912.00" y="215.71"/><use href="#p" x="914.57" y="227.40"/><use href="#p" x="917.07" y="235.79"/><use href="#p" x="919.48" y="224.40"/><use href="#p" x="921.83" y="234.00"/><use href="#p" x="924.10" y="255.58"/><use href="#p" x="926.32" y="228.18"/><use href="#p" x="928.47" y="228.97"/><use href="#p" x="930.56" y="244.73"/><use href="#p" x="932.60" y="248.09"/><use href="#p" x="934.59" y="243.65"/><use href="#p" x="936.53" y="241.57"/><use href="#p" x="938.42" y="264.34"/><use href="#p" x="940.27" y="245.83"/><use href="#p" x="942.07" y="262.77"/><use href="#p" x="943.84" y="256.94"/><use href="#p" x="945.56" y="248.09"/><use href="#p" x="947.25" y="243.65"/><use href="#p" x="948.90" y="259.77"/><use href="#p" x="950.52" y="264.34"/><use href="#p" x="952.11" y="285.84"/><use href="#p" x="953.67" y="273.01"/><use href="#p" x="955.19" y="279.03"/><use href="#p" x="956.69" y="269.37"/><use href="#p" x="958.15" y="299.72"/><use href="#p" x="959.59" y="281.20"/><use href="#p" x="961.01" y="267.64"/><use href="#p" x="962.40" y="288.33"/><use href="#p" x="963.76" y="274.94"/><use href="#p" x="965.11" y="279.03"/><use href="#p" x="966.43" y="269.37"/><use href="#p" x="967.72" y="273.01"/><use href="#p" x="969.00" y="281.20"/><use href="#p" x="970.26" y="279.03"/><use href="#p" x="971.49" y="267.64"/><use href="#p" x="972.71" y="314.40"/><use href="#p" x="973.91" y="293.71"/><use href="#p" x="975.09" y="299.72"/><use href="#p" x="976.25" y="290.95"/><use href="#p" x="977.40" y="299.72"/><use href="#p" x="978.53" y="310.31"/><use href="#p" x="979.64" y="283.47"/><use href="#p" x="980.74" y="279.03"/><use href="#p" x="981.83" y="276.94"/><use href="#p" x="982.89" y="274.94"/><use href="#p" x="983.95" y="310.31"/><use href="#p" x="984.99" y="299.72"/><use href="#p" x="986.01" y="318.84"/><use href="#p" x="987.03" y="306.53"/><use href="#p" x="988.03" y="314.40"/><use href="#p" x="989.02" y="306.53"/><use href="#p" x="989.99" y="296.62"/><use href="#p" x="990.95" y="323.70"/><use href="#p" x="991.91" y="293.71"/><use href="#p" x="992.85" y="318.84"/><use href="#p" x="993.78" y="299.72"/><use href="#p" x="994.69" y="290.95"/><use href="#p" x="995.60" y="341.90"/><use href="#p" x="996.50" y="329.08"/><use href="#p" x="997.39" y="310.31"/><use href="#p" x="998.26" y="303.01"/><use href="#p" x="999.13" y="306.53"/><use href="#p" x="999.99" y="296.62"/><use href="#p" x="1000.84" y="314.40"/><use href="#p" x="1001.68" y="329.08"/><use href="#p" x="1002.51" y="314.40"/><use href="#p" x="1003.33" y="323.70"/><use href="#p" x="1004.14" y="314.40"/><use href="#p" x="1004.95" y="349.77"/><use href="#p" x="1005.75" y="335.09"/><use href="#p" x="1006.54" y="323.70"/><use href="#p" x="1007.32" y="318.84"/><use href="#p" x="1008.09" y="359.07"/><use href="#p" x="1008.86" y="341.90"/><use href="#p" x="1009.62" y="335.09"/><use href="#p" x="1010.37" y="323.70"/><use href="#p" x="1011.11" y="335.09"/><use href="#p" x="1011.85" y="296.62"/><use href="#p" x="1012.58" y="349.77"/><use href="#p" x="1013.30" y="318.84"/><use href="#p" x="1014.02" y="310.31"/><use href="#p" x="1014.02" y="349.77"/><use href="#p" x="1014.73" y="318.84"/><use href="#p" x="1015.44" y="318.84"/><use href="#p" x="1016.13" y="335.09"/><use href="#p" x="1016.82" y="349.77"/><use href="#p" x="1017.51" y="349.77"/><use href="#p" x="1017.51" y="359.07"/><use href="#p" x="1018.19" y="310.31"/><use href="#p" x="1018.86" y="349.77"/><use href="#p" x="1019.53" y="323.70"/><use href="#p" x="1020.20" y="310.31"/><use href="#p" x="1020.85" y="335.09"/><use href="#p" x="1021.50" y="359.07"/><use href="#p" x="1022.15" y="306.90"/><use href="#p" x="1022.15" y="314.40"/><use href="#p" x="1022.79" y="349.77"/><use href="#p" x="1023.43" y="318.84"/><use href="#p" x="1024.06" y="335.09"/><use href="#p" x="1024.68" y="359.07"/><use href="#p" x="1025.30" y="329.08"/><use href="#p" x="1025.92" y="323.70"/><use href="#p" x="1026.53" y="341.90"/><use href="#p" x="1027.14" y="341.90"/><use href="#p" x="1027.14" y="349.77"/><use href="#p" x="1027.74" y="329.08"/><use href="#p" x="1028.34" y="341.90"/><use href="#p" x="1028.34" y="359.07"/><use href="#p" x="1028.93" y="349.77"/><use href="#p" x="1029.52" y="359.07"/><use href="#p" x="1030.10" y="335.09"/><use href="#p" x="1030.68" y="314.40"/><use href="#p" x="1030.68" y="349.77"/><use href="#p" x="1031.26" y="329.08"/><use href="#p" x="1032.39" y="314.40"/><use href="#p" x="1032.39" y="359.07"/><use href="#p" x="1032.39" y="370.46"/><use href="#p" x="1032.96" y="349.77"/><use href="#p" x="1033.52" y="349.77"/><use href="#p" x="1034.07" y="323.70"/><use href="#p" x="1034.62" y="310.31"/><use href="#p" x="1035.17" y="323.70"/><use href="#p" x="1035.17" y="359.07"/><use href="#p" x="1035.71" y="335.09"/><use href="#p" x="1035.71" y="370.46"/><use href="#p" x="1036.25" y="329.08"/><use href="#p" x="1036.79" y="349.77"/><use href="#p" x="1038.37" y="341.90"/><use href="#p" x="1038.37" y="370.46"/><use href="#p" x="1038.37" y="385.14"/><use href="#p" x="1038.90" y="359.07"/><use href="#p" x="1039.41" y="335.09"/><use href="#p" x="1039.93" y="341.90"/><use href="#p" x="1039.93" y="349.77"/><use href="#p" x="1039.93" y="370.46"/><use href="#p" x="1040.44" y="385.14"/><use href="#p" x="1040.95" y="405.83"/><use href="#p" x="1041.45" y="359.07"/><use href="#p" x="1041.96" y="349.77"/><use href="#p" x="1041.96" y="370.46"/><use href="#p" x="1043.44" y="405.83"/><use href="#p" x="1043.93" y="370.46"/><use href="#p" x="1043.93" y="385.14"/><use href="#p" x="1044.42" y="341.90"/><use href="#p" x="1044.90" y="359.07"/><use href="#p" x="1045.38" y="329.08"/><use href="#p" x="1045.38" y="385.14"/><use href="#p" x="1045.86" y="329.08"/><use href="#p" x="1045.86" y="349.77"/><use href="#p" x="1045.86" y="405.83"/><use href="#p" x="1046.33" y="335.09"/><use href="#p" x="1046.80" y="341.90"/><use href="#p" x="1046.80" y="359.07"/><use href="#p" x="1046.80" y="370.46"/><use href="#p" x="1046.80" y="385.14"/><use href="#p" x="1047.27" y="405.83"/><use href="#p" x="1048.20" y="441.20"/><use href="#p" x="1048.66" y="441.20"/><use href="#p" x="1049.12" y="370.46"/><use href="#p" x="1049.58" y="405.83"/><use href="#p" x="1050.03" y="385.14"/><use href="#p" x="1050.48" y="335.09"/><use href="#p" x="1050.93" y="370.46"/><use href="#p" x="1051.37" y="335.09"/><use href="#p" x="1051.37" y="349.77"/><use href="#p" x="1051.37" y="359.07"/><use href="#p" x="1052.69" y="385.14"/><use href="#p" x="1052.69" y="405.83"/><use href="#p" x="1053.12" y="341.90"/><use href="#p" x="1053.99" y="370.46"/><use href="#p" x="1054.84" y="359.07"/><use href="#p" x="1055.26" y="385.14"/><use href="#p" x="1055.69" y="349.77"/><use href="#p" x="1055.69" y="405.83"/><use href="#p" x="1056.52" y="370.46"/><use href="#p" x="1056.94" y="349.77"/><use href="#p" x="1057.76" y="341.90"/><use href="#p" x="1057.76" y="359.07"/><use href="#p" x="1057.76" y="405.83"/><use href="#p" x="1058.17" y="441.20"/><use href="#p" x="1058.97" y="385.14"/><use href="#p" x="1058.97" y="441.20"/><use href="#p" x="1059.38" y="349.77"/><use href="#p" x="1060.17" y="370.46"/><use href="#p" x="1060.96" y="441.20"/><use href="#p" x="1061.35" y="405.83"/><use href="#p" x="1061.74" y="341.90"/><use href="#p" x="1062.52" y="359.07"/><use href="#p" x="1062.52" y="370.46"/><use href="#p" x="1062.52" y="385.14"/><use href="#p" x="1062.52" y="441.20"/><use href="#p" x="1062.90" y="405.83"/><use href="#p" x="1064.42" y="349.77"/><use href="#p" x="1064.79" y="385.14"/><use href="#p" x="1064.79" y="441.20"/><use href="#p" x="1065.17" y="370.46"/><use href="#p" x="1065.91" y="349.77"/><use href="#p" x="1065.91" y="359.07"/><use href="#p" x="1066.28" y="405.83"/><use href="#p" x="1066.28" y="441.20"/><use href="#p" x="1067.01" y="341.90"/><use href="#p" x="1067.01" y="385.14"/><use href="#p" x="1067.01" y="441.20"/><use href="#p" x="1067.37" y="370.46"/><use href="#p" x="1067.73" y="405.83"/><use href="#p" x="1068.09" y="359.07"/><use href="#p" x="1068.09" y="441.20"/><use href="#p" x="1069.51" y="405.83"/><use href="#p" x="1069.51" y="441.20"/><use href="#p" x="1070.21" y="370.46"/><use href="#p" x="1070.21" y="385.14"/><use href="#p" x="1070.56" y="441.20"/><use href="#p" x="1070.91" y="341.90"/><use href="#p" x="1071.59" y="341.90"/><use href="#p" x="1072.62" y="441.20"/><use href="#p" x="1072.95" y="385.14"/><use href="#p" x="1072.95" y="405.83"/><use href="#p" x="1073.29" y="441.20"/><use href="#p" x="1074.62" y="370.46"/><use href="#p" x="1074.62" y="405.83"/><use href="#p" x="1074.62" y="441.20"/><use href="#p" x="1076.25" y="385.14"/><use href="#p" x="1076.25" y="405.83"/><use href="#p" x="1076.25" y="441.20"/><use href="#p" x="1077.22" y="370.46"/><use href="#p" x="1077.54" y="385.14"/><use href="#p" x="1077.85" y="405.83"/><use href="#p" x="1077.85" y="441.20"/><use href="#p" x="1078.48" y="370.46"/><use href="#p" x="1078.80" y="441.20"/><use href="#p" x="1080.04" y="370.46"/><use href="#p" x="1080.96" y="385.14"/><use href="#p" x="1081.26" y="441.20"/><use href="#p" x="1081.56" y="370.46"/><use href="#p" x="1081.56" y="405.83"/><use href="#p" x="1082.76" y="385.14"/><use href="#p" x="1083.36" y="441.20"/><use href="#p" x="1083.94" y="441.20"/><use href="#p" x="1084.24" y="385.14"/><use href="#p" x="1084.82" y="385.14"/><use href="#p" x="1085.39" y="405.83"/><use href="#p" x="1086.54" y="441.20"/><use href="#p" x="1087.38" y="441.20"/><use href="#p" x="1088.50" y="405.83"/><use href="#p" x="1089.32" y="441.20"/><use href="#p" x="1090.95" y="405.83"/><use href="#p" x="1091.75" y="441.20"/><use href="#p" x="1092.90" y="385.14"/><use href="#p" x="1093.84" y="441.20"/><use href="#p" x="1094.87" y="405.83"/><use href="#p" x="1095.37" y="441.20"/><use href="#p" x="1096.38" y="441.20"/><use href="#p" x="1097.62" y="405.83"/><use href="#p" x="1098.11" y="441.20"/><use href="#p" x="1100.05" y="405.83"/><use href="#p" x="1100.05" y="441.20"/><use href="#p" x="1100.99" y="441.20"/><use href="#p" x="1103.09" y="441.20"/><use href="#p" x="1103.32" y="405.83"/><use href="#p" x="1104.90" y="441.20"/><use href="#p" x="1105.13" y="405.83"/><use href="#p" x="1105.80" y="441.20"/><use href="#p" x="1107.98" y="441.20"/><use href="#p" x="1109.69" y="441.20"/><use href="#p" x="1111.98" y="441.20"/><use href="#p" x="1113.00" y="441.20"/><use href="#p" x="1113.50" y="405.83"/><use href="#p" x="1114.20" y="441.20"/><use href="#p" x="1116.56" y="441.20"/><use href="#p" x="1117.50" y="405.83"/><use href="#p" x="1119.03" y="441.20"/><use href="#p" x="1121.61" y="441.20"/><use href="#p" x="1122.16" y="441.20"/><use href="#p" x="1123.76" y="441.20"/><use href="#p" x="1124.99" y="441.20"/><use href="#p" x="1131.00" y="441.20"/><use href="#p" x="1137.00" y="441.20"/><use href="#p" x="1143.00" y="441.20"/><use href="#p" x="1153.60" y="441.20"/></g>
</g>
<line x1="711.19" y1="451.0" x2="711.19" y2="455.6" stroke="#000" stroke-width="1.05"/>
<line x1="721.68" y1="451.0" x2="721.68" y2="455.6" stroke="#000" stroke-width="1.05"/>
<line x1="730.93" y1="451.0" x2="730.93" y2="455.6" stroke="#000" stroke-width="1.05"/>
<line x1="793.63" y1="451.0" x2="793.63" y2="455.6" stroke="#000" stroke-width="1.05"/>
<line x1="825.46" y1="451.0" x2="825.46" y2="455.6" stroke="#000" stroke-width="1.05"/>
<line x1="848.05" y1="451.0" x2="848.05" y2="455.6" stroke="#000" stroke-width="1.05"/>
<line x1="865.57" y1="451.0" x2="865.57" y2="455.6" stroke="#000" stroke-width="1.05"/>
<line x1="879.89" y1="451.0" x2="879.89" y2="455.6" stroke="#000" stroke-width="1.05"/>
<line x1="891.99" y1="451.0" x2="891.99" y2="455.6" stroke="#000" stroke-width="1.05"/>
<line x1="902.48" y1="451.0" x2="902.48" y2="455.6" stroke="#000" stroke-width="1.05"/>
<line x1="911.73" y1="451.0" x2="911.73" y2="455.6" stroke="#000" stroke-width="1.05"/>
<line x1="974.43" y1="451.0" x2="974.43" y2="455.6" stroke="#000" stroke-width="1.05"/>
<line x1="1006.26" y1="451.0" x2="1006.26" y2="455.6" stroke="#000" stroke-width="1.05"/>
<line x1="1028.85" y1="451.0" x2="1028.85" y2="455.6" stroke="#000" stroke-width="1.05"/>
<line x1="1046.37" y1="451.0" x2="1046.37" y2="455.6" stroke="#000" stroke-width="1.05"/>
<line x1="1060.69" y1="451.0" x2="1060.69" y2="455.6" stroke="#000" stroke-width="1.05"/>
<line x1="1072.79" y1="451.0" x2="1072.79" y2="455.6" stroke="#000" stroke-width="1.05"/>
<line x1="1083.28" y1="451.0" x2="1083.28" y2="455.6" stroke="#000" stroke-width="1.05"/>
<line x1="1092.53" y1="451.0" x2="1092.53" y2="455.6" stroke="#000" stroke-width="1.05"/>
<line x1="711.1" y1="450.97" x2="706.5" y2="450.97" stroke="#000" stroke-width="1.05"/>
<line x1="711.1" y1="441.67" x2="706.5" y2="441.67" stroke="#000" stroke-width="1.05"/>
<line x1="711.1" y1="433.80" x2="706.5" y2="433.80" stroke="#000" stroke-width="1.05"/>
<line x1="711.1" y1="426.99" x2="706.5" y2="426.99" stroke="#000" stroke-width="1.05"/>
<line x1="711.1" y1="420.98" x2="706.5" y2="420.98" stroke="#000" stroke-width="1.05"/>
<line x1="711.1" y1="380.23" x2="706.5" y2="380.23" stroke="#000" stroke-width="1.05"/>
<line x1="711.1" y1="359.54" x2="706.5" y2="359.54" stroke="#000" stroke-width="1.05"/>
<line x1="711.1" y1="344.86" x2="706.5" y2="344.86" stroke="#000" stroke-width="1.05"/>
<line x1="711.1" y1="333.47" x2="706.5" y2="333.47" stroke="#000" stroke-width="1.05"/>
<line x1="711.1" y1="324.17" x2="706.5" y2="324.17" stroke="#000" stroke-width="1.05"/>
<line x1="711.1" y1="316.30" x2="706.5" y2="316.30" stroke="#000" stroke-width="1.05"/>
<line x1="711.1" y1="309.49" x2="706.5" y2="309.49" stroke="#000" stroke-width="1.05"/>
<line x1="711.1" y1="303.48" x2="706.5" y2="303.48" stroke="#000" stroke-width="1.05"/>
<line x1="711.1" y1="262.73" x2="706.5" y2="262.73" stroke="#000" stroke-width="1.05"/>
<line x1="711.1" y1="242.04" x2="706.5" y2="242.04" stroke="#000" stroke-width="1.05"/>
<line x1="711.1" y1="227.36" x2="706.5" y2="227.36" stroke="#000" stroke-width="1.05"/>
<line x1="711.1" y1="215.97" x2="706.5" y2="215.97" stroke="#000" stroke-width="1.05"/>
<line x1="711.1" y1="206.67" x2="706.5" y2="206.67" stroke="#000" stroke-width="1.05"/>
<line x1="711.1" y1="198.80" x2="706.5" y2="198.80" stroke="#000" stroke-width="1.05"/>
<line x1="711.1" y1="191.99" x2="706.5" y2="191.99" stroke="#000" stroke-width="1.05"/>
<line x1="711.1" y1="185.98" x2="706.5" y2="185.98" stroke="#000" stroke-width="1.05"/>
<line x1="711.1" y1="145.23" x2="706.5" y2="145.23" stroke="#000" stroke-width="1.05"/>
<line x1="711.1" y1="124.54" x2="706.5" y2="124.54" stroke="#000" stroke-width="1.05"/>
<line x1="711.1" y1="109.86" x2="706.5" y2="109.86" stroke="#000" stroke-width="1.05"/>
<line x1="711.1" y1="98.47" x2="706.5" y2="98.47" stroke="#000" stroke-width="1.05"/>
<line x1="711.1" y1="89.17" x2="706.5" y2="89.17" stroke="#000" stroke-width="1.05"/>
<line x1="711.1" y1="81.30" x2="706.5" y2="81.30" stroke="#000" stroke-width="1.05"/>
<line x1="711.1" y1="74.49" x2="706.5" y2="74.49" stroke="#000" stroke-width="1.05"/>
<line x1="711.1" y1="68.48" x2="706.5" y2="68.48" stroke="#000" stroke-width="1.05"/>
<line x1="711.1" y1="27.73" x2="706.5" y2="27.73" stroke="#000" stroke-width="1.05"/>
<line x1="711.1" y1="7.04" x2="706.5" y2="7.04" stroke="#000" stroke-width="1.05"/>
<rect x="711.1" y="7.3" width="443.50" height="443.70" fill="none" stroke="#000" stroke-width="1.35"/>
<rect x="356.4" y="12.7" width="193.3" height="92.2" fill="#fff" stroke="#000" stroke-width="1.1"/>
<g stroke="#000" stroke-width="1.1">
<path d="M374.7,21.2L382.2,36.3L367.2,36.3Z" fill="#fde2de"/>
<rect x="367" y="52" width="15.2" height="14.6" fill="#fb6a4a"/>
<path d="M374.65,80.20L382.35,85.80L379.41,94.85L369.89,94.85L366.95,85.80Z" fill="#7d0000"/>
</g>
<text x="392.45" y="37.0" style="font-family:'Liberation Serif',serif;stroke:#fff;stroke-width:0.18px;font-size:25.4px;font-style:italic">Ta</text>
<path d="M423.1,27.80H440M423.1,33.50H440" stroke="#000" stroke-width="1.1"/>
<text x="446.95" y="37.0" style="font-family:'Liberation Serif',serif;stroke:#fff;stroke-width:0.18px;font-size:25.4px">1.0</text>
<path d="M486.3,25.20L497.7,36.60M497.7,25.20L486.3,36.60" stroke="#000" stroke-width="1.1"/>
<text x="507.05" y="37.0" style="font-family:'Liberation Serif',serif;stroke:#fff;stroke-width:0.18px;font-size:25.4px">10</text>
<text x="531.55" y="27.50" style="font-family:'Liberation Serif',serif;stroke:#fff;stroke-width:0.18px;font-size:17.0px">7</text>
<text x="392.45" y="66.9" style="font-family:'Liberation Serif',serif;stroke:#fff;stroke-width:0.18px;font-size:25.4px;font-style:italic">Ta</text>
<path d="M423.1,57.70H440M423.1,63.40H440" stroke="#000" stroke-width="1.1"/>
<text x="446.95" y="66.9" style="font-family:'Liberation Serif',serif;stroke:#fff;stroke-width:0.18px;font-size:25.4px">3.0</text>
<path d="M486.3,55.10L497.7,66.50M497.7,55.10L486.3,66.50" stroke="#000" stroke-width="1.1"/>
<text x="507.05" y="66.9" style="font-family:'Liberation Serif',serif;stroke:#fff;stroke-width:0.18px;font-size:25.4px">10</text>
<text x="531.55" y="57.40" style="font-family:'Liberation Serif',serif;stroke:#fff;stroke-width:0.18px;font-size:17.0px">7</text>
<text x="392.45" y="96.3" style="font-family:'Liberation Serif',serif;stroke:#fff;stroke-width:0.18px;font-size:25.4px;font-style:italic">Ta</text>
<path d="M423.1,87.10H440M423.1,92.80H440" stroke="#000" stroke-width="1.1"/>
<text x="446.95" y="96.3" style="font-family:'Liberation Serif',serif;stroke:#fff;stroke-width:0.18px;font-size:25.4px">1.0</text>
<path d="M486.3,84.50L497.7,95.90M497.7,84.50L486.3,95.90" stroke="#000" stroke-width="1.1"/>
<text x="507.05" y="96.3" style="font-family:'Liberation Serif',serif;stroke:#fff;stroke-width:0.18px;font-size:25.4px">10</text>
<text x="531.55" y="86.80" style="font-family:'Liberation Serif',serif;stroke:#fff;stroke-width:0.18px;font-size:17.0px">8</text>
<text x="116.75" y="483.55" style="font-family:'Liberation Serif',serif;stroke:#fff;stroke-width:0.18px;font-size:25.4px">10</text><text x="142.45" y="474.75" style="font-family:'Liberation Serif',serif;stroke:#fff;stroke-width:0.18px;font-size:17.0px">1</text>
<text x="297.85" y="483.55" style="font-family:'Liberation Serif',serif;stroke:#fff;stroke-width:0.18px;font-size:25.4px">10</text><text x="323.55" y="474.75" style="font-family:'Liberation Serif',serif;stroke:#fff;stroke-width:0.18px;font-size:17.0px">2</text>
<text x="478.95" y="483.55" style="font-family:'Liberation Serif',serif;stroke:#fff;stroke-width:0.18px;font-size:25.4px">10</text><text x="504.65" y="474.75" style="font-family:'Liberation Serif',serif;stroke:#fff;stroke-width:0.18px;font-size:17.0px">3</text>
<text x="716.05" y="483.55" style="font-family:'Liberation Serif',serif;stroke:#fff;stroke-width:0.18px;font-size:25.4px">10</text><text x="741.75" y="474.75" style="font-family:'Liberation Serif',serif;stroke:#fff;stroke-width:0.18px;font-size:17.0px">1</text>
<text x="896.85" y="483.55" style="font-family:'Liberation Serif',serif;stroke:#fff;stroke-width:0.18px;font-size:25.4px">10</text><text x="922.55" y="474.75" style="font-family:'Liberation Serif',serif;stroke:#fff;stroke-width:0.18px;font-size:17.0px">2</text>
<text x="1077.65" y="483.55" style="font-family:'Liberation Serif',serif;stroke:#fff;stroke-width:0.18px;font-size:25.4px">10</text><text x="1103.35" y="474.75" style="font-family:'Liberation Serif',serif;stroke:#fff;stroke-width:0.18px;font-size:17.0px">3</text>
<text x="52.45" y="80.70" style="font-family:'Liberation Serif',serif;stroke:#fff;stroke-width:0.18px;font-size:25.4px">10</text><path d="M78.40,66.90H88.20" stroke="#000" stroke-width="1.05"/><text x="90.45" y="71.10" style="font-family:'Liberation Serif',serif;stroke:#fff;stroke-width:0.18px;font-size:17.0px">1</text>
<text x="52.45" y="265.50" style="font-family:'Liberation Serif',serif;stroke:#fff;stroke-width:0.18px;font-size:25.4px">10</text><path d="M78.40,251.70H88.20" stroke="#000" stroke-width="1.05"/><text x="89.85" y="255.90" style="font-family:'Liberation Serif',serif;stroke:#fff;stroke-width:0.18px;font-size:17.0px">2</text>
<text x="52.45" y="450.10" style="font-family:'Liberation Serif',serif;stroke:#fff;stroke-width:0.18px;font-size:25.4px">10</text><path d="M78.40,436.30H88.20" stroke="#000" stroke-width="1.05"/><text x="89.85" y="440.50" style="font-family:'Liberation Serif',serif;stroke:#fff;stroke-width:0.18px;font-size:17.0px">3</text>
<text x="650.45" y="78.50" style="font-family:'Liberation Serif',serif;stroke:#fff;stroke-width:0.18px;font-size:25.4px">10</text><path d="M676.40,64.70H686.20" stroke="#000" stroke-width="1.05"/><text x="688.45" y="68.90" style="font-family:'Liberation Serif',serif;stroke:#fff;stroke-width:0.18px;font-size:17.0px">1</text>
<text x="650.45" y="195.80" style="font-family:'Liberation Serif',serif;stroke:#fff;stroke-width:0.18px;font-size:25.4px">10</text><path d="M676.40,182.00H686.20" stroke="#000" stroke-width="1.05"/><text x="687.85" y="186.20" style="font-family:'Liberation Serif',serif;stroke:#fff;stroke-width:0.18px;font-size:17.0px">2</text>
<text x="650.45" y="313.10" style="font-family:'Liberation Serif',serif;stroke:#fff;stroke-width:0.18px;font-size:25.4px">10</text><path d="M676.40,299.30H686.20" stroke="#000" stroke-width="1.05"/><text x="687.85" y="303.50" style="font-family:'Liberation Serif',serif;stroke:#fff;stroke-width:0.18px;font-size:17.0px">3</text>
<text x="650.45" y="430.30" style="font-family:'Liberation Serif',serif;stroke:#fff;stroke-width:0.18px;font-size:25.4px">10</text><path d="M676.40,416.50H686.20" stroke="#000" stroke-width="1.05"/><text x="687.85" y="420.70" style="font-family:'Liberation Serif',serif;stroke:#fff;stroke-width:0.18px;font-size:17.0px">4</text>
<text x="2.15" y="24.3" style="font-family:'Liberation Serif',serif;stroke:#fff;stroke-width:0.18px;font-size:29.6px">(</text>
<text x="11.00" y="24.3" style="font-family:'Liberation Serif',serif;stroke:#fff;stroke-width:0.18px;font-size:29.6px;font-style:italic">a</text>
<text x="601.95" y="24.3" style="font-family:'Liberation Serif',serif;stroke:#fff;stroke-width:0.18px;font-size:29.6px">(</text>
<text x="611.35" y="24.3" style="font-family:'Liberation Serif',serif;stroke:#fff;stroke-width:0.18px;font-size:29.6px;font-style:italic">b</text>
<text x="27.3" y="24.3" style="font-family:'Liberation Serif',serif;stroke:#fff;stroke-width:0.18px;font-size:29.6px">)</text>
<text x="626.9" y="24.3" style="font-family:'Liberation Serif',serif;stroke:#fff;stroke-width:0.18px;font-size:29.6px">)</text>
<text transform="translate(31.4,295.8) rotate(-90)" style="font-family:'Liberation Serif',serif;stroke:#fff;stroke-width:0.18px;font-size:29.3px">Probability</text>
<text x="293.65" y="522.65" style="font-family:'Liberation Serif',serif;stroke:#fff;stroke-width:0.18px;font-size:29.6px;font-style:italic">t</text><text x="301.80" y="526.7" style="font-family:'Liberation Serif',serif;stroke:#fff;stroke-width:0.18px;font-size:19.5px;font-style:italic">l</text><text x="307.30" y="526.7" style="font-family:'Liberation Serif',serif;stroke:#fff;stroke-width:0.18px;font-size:19.5px;font-style:italic">i</text><text x="313.90" y="526.7" style="font-family:'Liberation Serif',serif;stroke:#fff;stroke-width:0.18px;font-size:19.5px;font-style:italic">f</text><text x="322.60" y="526.7" style="font-family:'Liberation Serif',serif;stroke:#fff;stroke-width:0.18px;font-size:19.5px;font-style:italic">e</text><text x="341.45" y="522.5" style="font-family:'Liberation Serif',serif;stroke:#fff;stroke-width:0.18px;font-size:29.6px">(s)</text>
<text x="891.45" y="522.65" style="font-family:'Liberation Serif',serif;stroke:#fff;stroke-width:0.18px;font-size:29.6px;font-style:italic">t</text><text x="899.60" y="526.7" style="font-family:'Liberation Serif',serif;stroke:#fff;stroke-width:0.18px;font-size:19.5px;font-style:italic">l</text><text x="905.10" y="526.7" style="font-family:'Liberation Serif',serif;stroke:#fff;stroke-width:0.18px;font-size:19.5px;font-style:italic">i</text><text x="911.70" y="526.7" style="font-family:'Liberation Serif',serif;stroke:#fff;stroke-width:0.18px;font-size:19.5px;font-style:italic">f</text><text x="920.40" y="526.7" style="font-family:'Liberation Serif',serif;stroke:#fff;stroke-width:0.18px;font-size:19.5px;font-style:italic">e</text><text x="939.25" y="522.5" style="font-family:'Liberation Serif',serif;stroke:#fff;stroke-width:0.18px;font-size:29.6px">(s)</text>
</svg></body></html>
